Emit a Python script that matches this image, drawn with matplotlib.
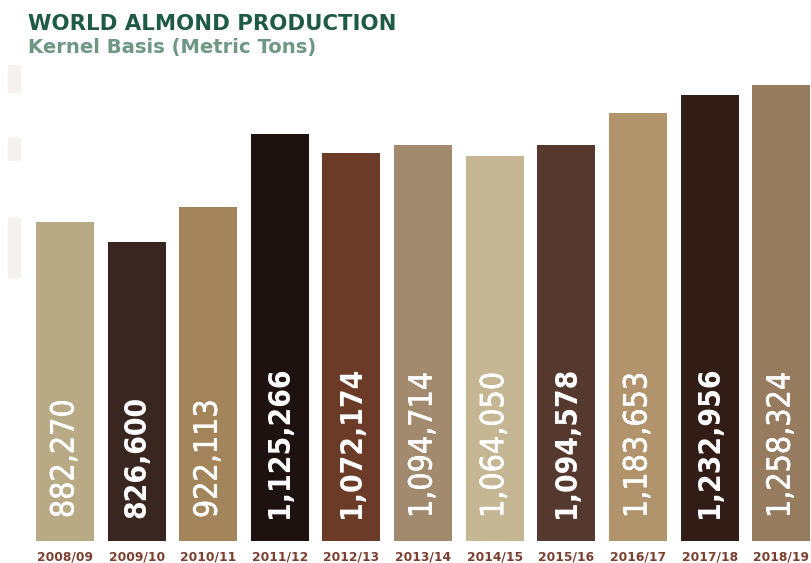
import matplotlib.pyplot as plt
import matplotlib.patheffects as pe
from matplotlib.patches import Rectangle

# World almond production, kernel basis (metric tons)
seasons = ['2008/09', '2009/10', '2010/11', '2011/12', '2012/13', '2013/14',
           '2014/15', '2015/16', '2016/17', '2017/18', '2018/19']
production = [882270, 826600, 922113, 1125266, 1072174, 1094714,
              1064050, 1094578, 1183653, 1232956, 1258324]
bar_colors = ['#b9aa86', '#3a2620', '#a4845a', '#1e1211', '#6b3b28', '#a28a6e',
              '#c6b794', '#56392e', '#b2946c', '#321c16', '#967b5e']
bold_label = [False, True, False, True, True, False,
              False, True, False, True, False]

W, H = 812, 563
fig = plt.figure(figsize=(W / 100, H / 100), dpi=100)

# faint blocks down the left margin
for top, bot in [(65, 92), (138, 160), (218, 277)]:
	fig.patches.append(Rectangle((8 / W, 1 - bot / H), 12 / W, (bot - top) / H,
	                             transform=fig.transFigure, color='#f6f2ef', zorder=0))

ax = fig.add_axes([29.2 / W, 22 / H, (W - 29.2) / W, 481 / H])
x = range(len(seasons))
ax.bar(x, production, width=0.81, color=bar_colors)
ax.set_xlim(-0.5, 10.43)
ax.set_ylim(0, 1.3287e6)

# value labels written up the bars; the light ones get a thin stroke for a medium weight
for i, v in enumerate(production):
	if bold_label[i]:
		kw = dict(fontsize=21.5, fontweight='bold')
	else:
		kw = dict(fontsize=23, fontweight='normal',
		          path_effects=[pe.withStroke(linewidth=0.4, foreground='white')])
	ax.annotate('{:,}'.format(v), xy=(i, 0), xytext=(0, 16.5), textcoords='offset points',
	            rotation=90, ha='center', va='bottom', color='white',
	            fontstretch='condensed', family='DejaVu Sans', **kw)

ax.set_xticks(list(x))
ax.set_xticklabels(seasons, fontsize=8.8, fontweight='bold', color='#7b3f30',
                   family='DejaVu Sans')
ax.tick_params(axis='x', length=0, pad=7)
ax.set_yticks([])
for s in ax.spines.values():
	s.set_visible(False)

fig.text(28 / W, 1 - 30 / H, 'WORLD ALMOND PRODUCTION', fontsize=15.3, fontweight='heavy',
         color='#1f5a45', family='DejaVu Sans', va='baseline')
fig.text(28 / W, 1 - 53 / H, 'Kernel Basis (Metric Tons)', fontsize=14.1, fontweight='bold',
         color='#6e9884', family='DejaVu Sans', va='baseline')

fig.savefig('out.png', dpi=100)
